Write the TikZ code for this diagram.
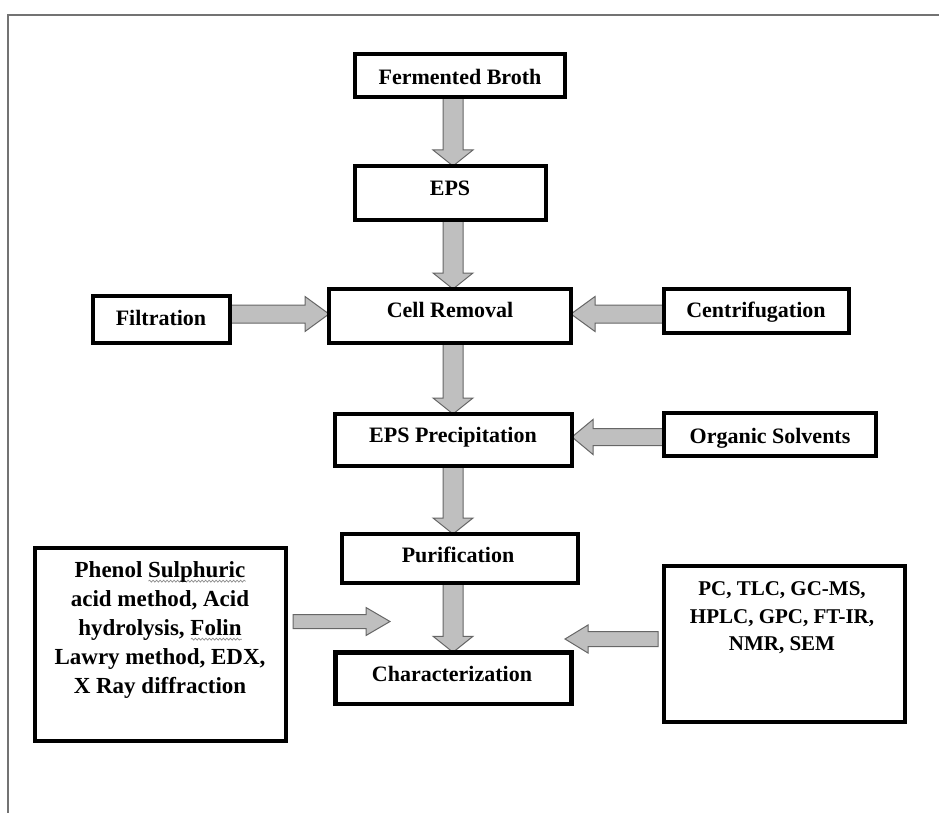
\documentclass[tikz,border=0pt]{standalone}
\usepackage{fontspec}
\setmainfont{Liberation Serif}
\usetikzlibrary{calc,decorations.pathmorphing}
\pgfdeclarelayer{bg}
\pgfsetlayers{bg,main}
\newlength\sqw
\newcommand\squig[1]{\settowidth\sqw{#1}\rlap{\raisebox{-5pt}[0pt][0pt]{\tikz[x=1pt,y=1pt]\draw[black!45, line width=0.7pt, decorate, decoration={snake, amplitude=1pt, segment length=3.5pt}] (0pt,0pt) -- (\sqw,0pt);}}#1}
\newcommand\blkD[2]{%
  \draw[blk] let \p1=#1, \p2=#2 in
    ({\x1-10pt},{\y1}) -- ({\x1-10pt},{\y2+16pt}) -- ({\x1-20pt},{\y2+16pt}) -- ({\x1},{\y2})
    -- ({\x1+20pt},{\y2+16pt}) -- ({\x1+10pt},{\y2+16pt}) -- ({\x1+10pt},{\y1}) -- cycle;}
% #5 = signed head length (positive: pointing right)
\newcommand\blkH[5]{%
  \draw[blk] let \p1=#1, \p2=#2 in
    ({\x1},{\y1+#3}) -- ({\x2-#5},{\y1+#3}) -- ({\x2-#5},{\y1+#4}) -- ({\x2},{\y1})
    -- ({\x2-#5},{\y1-#4}) -- ({\x2-#5},{\y1-#3}) -- ({\x1},{\y1-#3}) -- cycle;}
\begin{document}
\begin{tikzpicture}[x=1pt,y=-1pt,
  box/.style={draw=black, line width=4.5pt, fill=white, inner sep=0pt, outer sep=0pt},
  lbl/.style={inner sep=0pt, font=\bfseries\fontsize{22}{26}\selectfont, align=center},
  blk/.style={fill=black!25, draw=black!60, line width=1pt, line join=miter},
  frame/.style={draw=black!55, line width=1.5pt}]
\useasboundingbox (0,0) rectangle (939,813);
\draw[frame] (8,813) -- (8,15) -- (939,15);

% boxes
\node[box, minimum width=210, minimum height=43] (fb)   at (460,75.5) {};
\node[box, minimum width=191, minimum height=54] (eps)  at (450.5,193) {};
\node[box, minimum width=242, minimum height=54] (cell) at (450,316) {};
\node[box, minimum width=137, minimum height=47] (filt) at (161.5,319.5) {};
\node[box, minimum width=185, minimum height=44] (cent) at (756.5,311) {};
\node[box, minimum width=237, minimum height=52] (epsp) at (453.5,440) {};
\node[box, minimum width=212, minimum height=43] (org)  at (770,434.5) {};
\node[box, minimum width=236, minimum height=49] (pur)  at (460,558.5) {};
\node[box, minimum width=236, minimum height=51.5] (char) at (453.5,678) {};
\node[box, minimum width=251, minimum height=193] (phen) at (160.5,644.5) {};
\node[box, minimum width=241, minimum height=156] (pc)  at (784.5,644) {};

% labels
\node[lbl] (fbT)   at (460,77) {Fermented Broth};
\node[lbl] (epsT)  at (450,188) {EPS};
\node[lbl] (cellT) at (450,310) {Cell Removal};
\node[lbl] (filtT) at (161,318) {Filtration};
\node[lbl] (centT) at (756,312) {Centrifugation};
\node[lbl] (epspT) at (453,437) {EPS Precipitation};
\node[lbl] (orgT)  at (770,438) {Organic Solvents};
\node[lbl] (purT)  at (458,555) {Purification};
\node[lbl] (charT) at (452,674) {Characterization};
\node[lbl, font=\bfseries\fontsize{23}{29}\selectfont] (phenT) at (160,630)
  {Phenol \squig{Sulphuric}\\acid method, Acid\\hydrolysis, \squig{Folin}\\Lawry method, EDX,\\X Ray diffraction};
\node[lbl, font=\bfseries\fontsize{21}{27.5}\selectfont] (pcT) at (782,618)
  {PC, TLC, GC-MS,\\HPLC, GPC, FT-IR,\\NMR, SEM};

% helper coordinates
\coordinate (c1) at (453,0);
\coordinate (r1) at (0,314);
\coordinate (r2) at (0,437);
\coordinate (phenEnd) at (390,621.5);
\coordinate (pcEnd) at (565,639);
\coordinate (phenS) at ($(phen.east |- phenEnd)+(7,0)$);
\coordinate (pcS) at ($(pc.west |- pcEnd)+(-6,0)$);

\begin{pgfonlayer}{bg}
\blkD{(fb.south -| c1)}{(eps.north -| c1)}
\blkD{(eps.south -| c1)}{(cell.north -| c1)}
\blkD{(cell.south -| c1)}{(epsp.north -| c1)}
\blkD{(epsp.south -| c1)}{(pur.north -| c1)}
\blkD{(pur.south -| c1)}{(char.north -| c1)}
\blkH{(filt.east |- r1)}{(cell.west |- r1)}{9pt}{17.5pt}{24pt}
\blkH{(cent.west |- r1)}{(cell.east |- r1)}{9pt}{17.5pt}{-24pt}
\blkH{(org.west |- r2)}{(epsp.east |- r2)}{8.5pt}{17.5pt}{-21pt}
\end{pgfonlayer}
\blkH{(phenS)}{(phenEnd)}{7pt}{14pt}{24pt}
\blkH{(pcS)}{(pcEnd)}{7.5pt}{14pt}{-23pt}
\end{tikzpicture}
\end{document}
